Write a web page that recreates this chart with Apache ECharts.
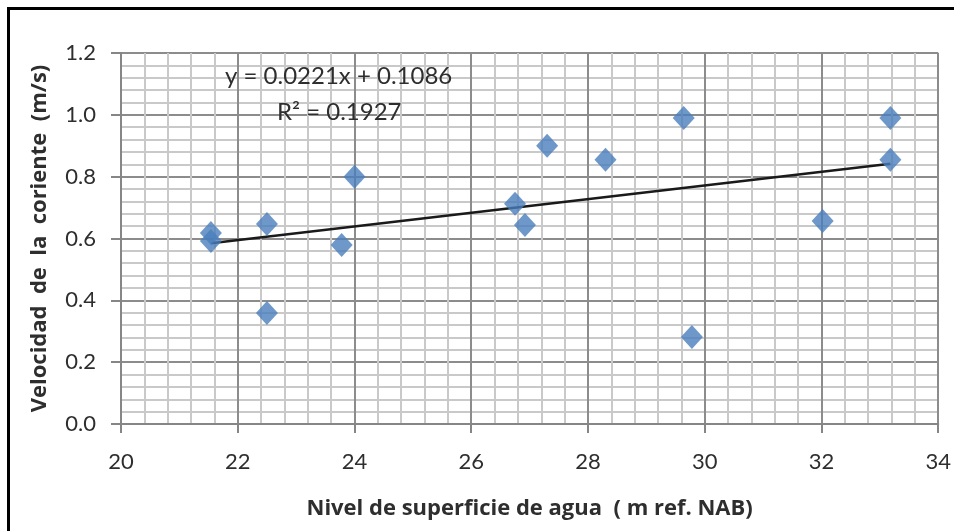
<!DOCTYPE html>
<html>
<head>
<meta charset="utf-8">
<script src="https://cdn.jsdelivr.net/npm/echarts@6/dist/echarts.min.js"></script>
<style>
  html, body { margin: 0; padding: 0; background: #ffffff; }
  #chart { width: 954px; height: 531px; }
</style>
</head>
<body>
<div id="chart"></div>
<script>
// Water surface level (m ref. NAB) and current velocity (m/s) measurements
const nivel = [21.54, 21.54, 22.50, 22.50, 23.78, 24.00, 26.75, 26.92, 27.30, 28.30, 29.64, 29.78, 32.02, 33.18, 33.18];
const velocidad = [0.618, 0.592, 0.647, 0.359, 0.579, 0.800, 0.712, 0.644, 0.900, 0.855, 0.990, 0.281, 0.657, 0.990, 0.855];

// Linear trend fitted to the measurements
const pendiente = 0.0221;
const intercepto = 0.1086;
const r2 = 0.1927;

const xTicks = { min: 20, max: 34, interval: 2 };
const yTicks = { min: 0, max: 1.2, interval: 0.2 };

const puntos = nivel.map((x, i) => [x, velocidad[i]]);
const xMin = Math.min(...nivel);
const xMax = Math.max(...nivel);
const tendencia = [
  [xMin, pendiente * xMin + intercepto],
  [xMax, pendiente * xMax + intercepto]
];

const FONT = 'Lato';
const TITLE_FONT = 'Open Sans';
const TXT = '#2e2e2e';

const chart = echarts.init(document.getElementById('chart'), null, { renderer: 'canvas' });

chart.setOption({
  animation: false,
  backgroundColor: '#ffffff',
  grid: { left: 121, right: 14, top: 53, bottom: 107, containLabel: false },
  xAxis: {
    type: 'value',
    min: xTicks.min, max: xTicks.max, interval: xTicks.interval,
    name: 'Nivel de superficie de agua  ( m ref. NAB)',
    nameLocation: 'middle',
    nameGap: 74,
    nameTextStyle: { fontFamily: TITLE_FONT, fontSize: 22, fontWeight: 'bold', color: TXT },
    axisLine: { show: true, lineStyle: { color: '#868686', width: 2 } },
    axisTick: { show: true, inside: false, length: 9, lineStyle: { color: '#868686', width: 2 } },
    axisLabel: { fontFamily: FONT, fontSize: 22, color: TXT, margin: 27 },
    splitLine: { show: true, lineStyle: { color: '#8c8c8c', width: 2 } },
    minorTick: { show: false, splitNumber: 5 },
    minorSplitLine: { show: true, lineStyle: { color: '#c9c9c9', width: 2 } }
  },
  yAxis: {
    type: 'value',
    min: yTicks.min, max: yTicks.max, interval: yTicks.interval,
    name: 'Velocidad  de  la  coriente  (m/s)',
    nameLocation: 'middle',
    nameGap: 70,
    nameTextStyle: { fontFamily: TITLE_FONT, fontSize: 22, fontWeight: 'bold', color: TXT },
    axisLine: { show: true, lineStyle: { color: '#868686', width: 2 } },
    axisTick: { show: true, inside: false, length: 10, lineStyle: { color: '#868686', width: 2 } },
    axisLabel: {
      fontFamily: FONT, fontSize: 22, color: TXT, margin: 25,
      formatter: v => v.toFixed(1)
    },
    splitLine: { show: true, lineStyle: { color: '#8c8c8c', width: 2 } },
    minorTick: { show: false, splitNumber: 5 },
    minorSplitLine: { show: true, lineStyle: { color: '#c9c9c9', width: 2 } }
  },
  series: [
    {
      name: 'Tendencia',
      type: 'line',
      data: tendencia,
      symbol: 'none',
      lineStyle: { color: '#1a1a1a', width: 2.5 },
      z: 3
    },
    {
      name: 'Velocidad',
      type: 'scatter',
      data: puntos,
      symbol: 'diamond',
      symbolSize: [22, 24],
      itemStyle: { color: '#4A7EBB' },
      z: 4
    }
  ],
  graphic: [
    {
      type: 'text',
      left: 225, top: 64,
      style: {
        text: 'y = ' + pendiente.toFixed(4) + 'x + ' + intercepto.toFixed(4),
        font: '24px ' + FONT, fill: TXT
      },
      z: 10
    },
    {
      type: 'text',
      left: 277, top: 100,
      style: {
        text: 'R² = ' + r2.toFixed(4),
        font: '24px ' + FONT, fill: TXT
      },
      z: 10
    },
    {
      type: 'rect',
      shape: { x: 8.5, y: 8.5, width: 1000, height: 600 },
      style: { fill: 'none', stroke: '#000000', lineWidth: 3 },
      silent: true,
      z: 20
    }
  ]
});
</script>
</body>
</html>
